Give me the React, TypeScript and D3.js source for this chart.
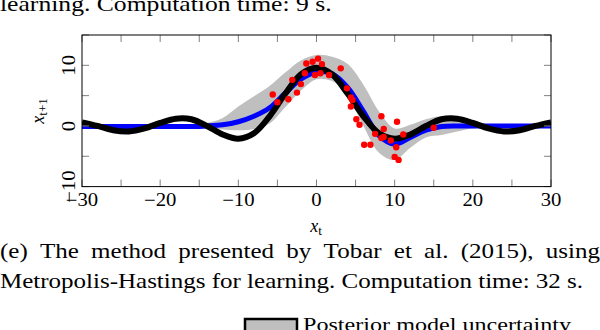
import React, { useEffect, useRef } from 'react'
import * as d3 from 'd3'

// grid of x_t values the curves are read at
const gridX = [-30, -28, -26, -24, -22, -20, -18, -16, -14, -12, -10, -8, -6, -4, -2, 0, 2, 4, 6, 8, 10, 12, 14, 16, 18, 20, 22, 24, 26, 28, 30]
// true function (black)
const trueF = [0.6, 0.0, -0.7, -0.9, -0.4, 0.5, 1.2, 1.1, 0.0, -1.4, -2.1, -1.2, 1.6, 5.3, 8.5, 9.6, 8.5, 5.3, 1.6, -1.2, -2.1, -1.4, 0.0, 1.1, 1.2, 0.5, -0.4, -0.9, -0.7, 0.0, 0.6]
// posterior mean (blue)
const postMean = [-0.1, -0.1, -0.1, -0.1, -0.1, -0.1, -0.1, -0.1, 0.0, 0.2, 0.7, 1.6, 3.0, 5.4, 7.7, 8.9, 8.6, 6.3, 2.4, -1.6, -3.0, -1.9, -0.7, -0.1, 0.0, 0.0, 0.0, 0.0, 0.0, 0.0, 0.0]
// posterior uncertainty band (gray)
const bandHigh = [0.2, 0.2, 0.2, 0.2, 0.2, 0.2, 0.2, 0.25, 0.5, 1.3, 3.2, 4.9, 6.6, 8.8, 10.8, 11.7, 11.4, 10.2, 6.8, 2.4, -0.4, 0.2, 1.1, 1.6, 1.2, 0.4, 0.3, 0.3, 0.3, 0.3, 0.3]
const bandLow = [-0.4, -0.4, -0.4, -0.4, -0.4, -0.4, -0.4, -0.4, -0.4, -0.6, -0.7, -0.5, 0.4, 3.1, 5.8, 7.7, 7.4, 4.9, 0.0, -4.4, -5.6, -3.6, -1.9, -1.5, -0.9, -0.4, -0.3, -0.3, -0.3, -0.3, -0.3]
// observed data (red)
const dataX = [-5.6, -5.0, -3.6, -3.1, -2.5, -2.0, -1.5, -1.3, -0.5, -0.2, 0.2, 0.5, 0.7, 1.6, 3.1, 3.9, 4.4, 4.6, 4.4, 5.1, 5.5, 6.1, 6.9, 7.5, 8.3, 8.6, 8.3, 8.6, 9.5, 10.3, 10.2, 10.0, 10.5, 11.1, 15.0]
const dataY = [5.2, 3.9, 4.4, 7.6, 5.5, 6.9, 8.7, 10.3, 10.6, 8.4, 11.1, 8.7, 10.2, 8.4, 9.5, 6.2, 4.7, 4.3, 3.2, 1.1, 0.2, -3.1, -3.1, -1.3, 1.6, -0.5, -2.0, -1.8, -2.4, 0.7, -3.5, -5.1, -5.6, -1.4, -0.3]

const xTicks = [-30, -25, -20, -15, -10, -5, 0, 5, 10, 15, 20, 25, 30]
const yTicks = [-10, -5, 0, 5, 10, 15]
const yLabels = [-10, 0, 10]

const topCaption = 'learning. Computation time: 9 s.'
const captionLine1 = ['(e)', 'The', 'method', 'presented', 'by', 'Tobar', 'et', 'al.', '(2015),', 'using']
const captionLine2 = 'Metropolis-Hastings for learning. Computation time: 32 s.'
const legendLabel = 'Posterior model uncertainty'

const W = 600
const H = 330
const plot = { left: 82, right: 551, top: 35, bottom: 186.6 }
const serif = "'Liberation Serif', 'Times New Roman', serif"
const capStretch = 1.19

// widen a text element horizontally by a factor (reference font runs wider than Times)
function stretch(sel: d3.Selection<SVGTextElement, any, any, any>, factor: number) {
  sel.each(function () {
    const w = this.getComputedTextLength()
    d3.select(this).attr('textLength', w * factor).attr('lengthAdjust', 'spacingAndGlyphs')
  })
}

export default function App() {
  const ref = useRef<SVGSVGElement>(null)

  useEffect(() => {
    const svg = d3.select(ref.current)
    svg.selectAll('*').remove()

    const x = d3.scaleLinear().domain([-30, 30]).range([plot.left, plot.right])
    const y = d3.scaleLinear().domain([-10, 15]).range([plot.bottom, plot.top])

    // caption above (tail of previous subfigure)
    const top = svg.append('text')
      .attr('x', 0).attr('y', 10.5)
      .attr('font-family', serif).attr('font-size', 21)
      .text(topCaption)
    stretch(top, 1.22)

    svg.append('clipPath').attr('id', 'plotclip')
      .append('rect')
      .attr('x', plot.left).attr('y', plot.top)
      .attr('width', plot.right - plot.left).attr('height', plot.bottom - plot.top)

    const g = svg.append('g').attr('clip-path', 'url(#plotclip)')

    // uncertainty band
    const band = d3.area<number>()
      .x((d, i) => x(gridX[i]))
      .y0((d, i) => y(bandLow[i]))
      .y1((d, i) => y(bandHigh[i]))
      .curve(d3.curveCatmullRom)
    g.append('path').datum(bandHigh).attr('d', band).attr('fill', '#bfbfbf')

    const line = d3.line<number>()
      .x((d, i) => x(gridX[i]))
      .y(d => y(d))
      .curve(d3.curveCatmullRom)

    g.append('path').datum(postMean).attr('d', line)
      .attr('fill', 'none').attr('stroke', '#0000ff').attr('stroke-width', 5)
    g.append('path').datum(trueF).attr('d', line)
      .attr('fill', 'none').attr('stroke', '#000').attr('stroke-width', 6)

    g.selectAll('circle.pt')
      .data(dataX)
      .enter()
      .append('circle')
      .attr('class', 'pt')
      .attr('cx', d => x(d))
      .attr('cy', (d, i) => y(dataY[i]))
      .attr('r', 3.2)
      .attr('fill', '#ff0000')

    // ticks, pointing inward on all four sides
    const tickLen = 7
    const ticks = svg.append('g').attr('stroke', '#808080').attr('stroke-width', 1)
    xTicks.forEach(t => {
      ticks.append('line').attr('x1', x(t)).attr('x2', x(t)).attr('y1', plot.bottom).attr('y2', plot.bottom - tickLen)
      ticks.append('line').attr('x1', x(t)).attr('x2', x(t)).attr('y1', plot.top).attr('y2', plot.top + tickLen)
    })
    yTicks.forEach(t => {
      ticks.append('line').attr('x1', plot.left).attr('x2', plot.left + tickLen).attr('y1', y(t)).attr('y2', y(t))
      ticks.append('line').attr('x1', plot.right).attr('x2', plot.right - tickLen).attr('y1', y(t)).attr('y2', y(t))
    })

    svg.append('rect')
      .attr('x', plot.left).attr('y', plot.top)
      .attr('width', plot.right - plot.left).attr('height', plot.bottom - plot.top)
      .attr('fill', 'none').attr('stroke', '#000').attr('stroke-width', 1)

    const fmt = d3.format('d')

    // x tick labels
    const xl = svg.append('g')
      .selectAll('text')
      .data(xTicks.filter(t => t % 10 === 0))
      .enter()
      .append('text')
      .attr('x', d => x(d))
      .attr('y', 206)
      .attr('text-anchor', 'middle')
      .attr('font-family', serif).attr('font-size', 18)
      .text(d => fmt(d))
    stretch(xl as any, 1.15)

    // y tick labels, rotated
    const yt = svg.append('g')
      .selectAll('text')
      .data(yLabels)
      .enter()
      .append('text')
      .attr('transform', d => `translate(75, ${y(d)}) rotate(-90)`)
      .attr('text-anchor', 'middle')
      .attr('font-family', serif).attr('font-size', 18)
      .text(d => fmt(d))
    stretch(yt as any, 1.15)

    // axis labels
    const xa = svg.append('text')
      .attr('x', 316).attr('y', 232)
      .attr('text-anchor', 'middle')
      .attr('font-family', serif).attr('font-size', 18)
    xa.append('tspan').attr('font-style', 'italic').text('x')
    xa.append('tspan').attr('font-size', 13).attr('dy', 3).text('t')

    const ya = svg.append('text')
      .attr('transform', 'translate(44, 111) rotate(-90)')
      .attr('text-anchor', 'middle')
      .attr('font-family', serif).attr('font-size', 18)
    ya.append('tspan').attr('font-style', 'italic').text('x')
    ya.append('tspan').attr('font-size', 13).attr('dy', 3).text('t+1')

    // justified first caption line
    const words = captionLine1.map(w =>
      svg.append('text')
        .attr('y', 258)
        .attr('font-family', serif).attr('font-size', 21)
        .text(w)
    )
    const widths = words.map(w => (w.node() as SVGTextElement).getComputedTextLength() * capStretch)
    const gap = (W - d3.sum(widths)) / (words.length - 1)
    let cx = 0
    words.forEach((w, i) => {
      w.attr('x', cx).attr('textLength', widths[i]).attr('lengthAdjust', 'spacingAndGlyphs')
      cx += widths[i] + gap
    })

    const line2 = svg.append('text')
      .attr('x', 0).attr('y', 288)
      .attr('font-family', serif).attr('font-size', 21)
      .text(captionLine2)
    stretch(line2, capStretch)

    // legend (cut off at bottom)
    svg.append('rect')
      .attr('x', 245).attr('y', 319)
      .attr('width', 52).attr('height', 20)
      .attr('fill', '#bfbfbf').attr('stroke', '#000').attr('stroke-width', 2.5)
    svg.append('text')
      .attr('x', 303).attr('y', 331)
      .attr('font-family', serif).attr('font-size', 18)
      .attr('textLength', 268).attr('lengthAdjust', 'spacingAndGlyphs')
      .text(legendLabel)
  }, [])

  return (
    <svg
      ref={ref}
      width={W}
      height={H}
      style={{ position: 'absolute', left: 0, top: 0, background: '#fff' }}
    />
  )
}
